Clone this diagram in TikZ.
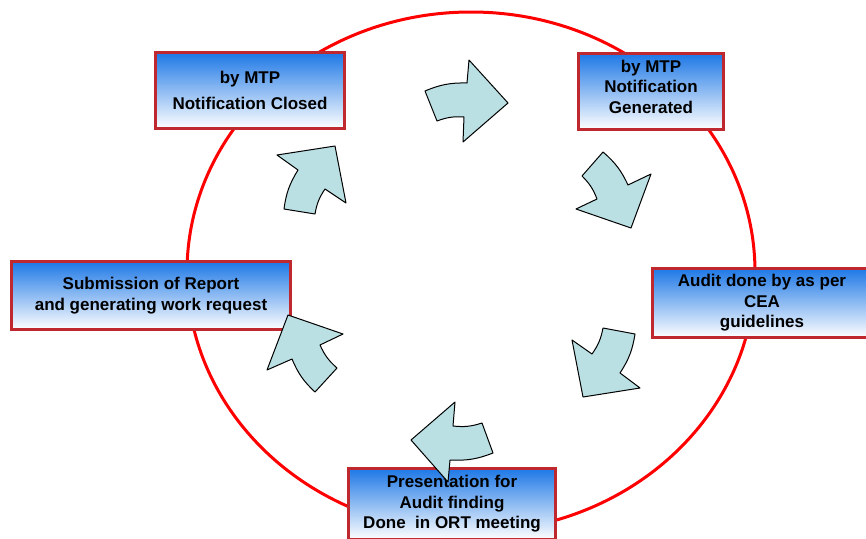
\documentclass[tikz,border=0pt]{standalone}
\usepackage{fontspec}
\setmainfont{Liberation Sans}
\usepackage{tikz}
\definecolor{ringred}{RGB}{255,0,0}
\definecolor{boxred}{RGB}{192,40,48}
\definecolor{boxblue}{RGB}{30,120,230}
\definecolor{turncyan}{RGB}{186,224,228}
\tikzset{
	stagebox/.style={draw=boxred, line width=3pt, top color=boxblue, bottom color=white,
		inner sep=0pt, align=center, font=\fontsize{17}{20.5}\selectfont\bfseries},
	turnarrow/.style={draw=black, fill=turncyan, line width=1pt, line join=round},
}

\begin{document}
\begin{tikzpicture}[x=1pt, y=-1pt]
		%%%%% START %%%%%
		\useasboundingbox (0, 0) rectangle (866, 538);
		
		\draw[ringred, line width=3pt] (471, 272) ellipse [x radius=284, y radius=260];
		
		\node[stagebox, minimum width=189pt, minimum height=76pt] (closed) at (250, 90.5)
			{by MTP\\[5.5pt] Notification Closed};
		\node[stagebox, minimum width=145pt, minimum height=76pt, text depth=10pt] (generated) at (651, 91.5)
			{by MTP\\ Notification\\ Generated};
		\node[stagebox, minimum width=219pt, minimum height=69pt] (audit) at (762, 303)
			{Audit done by as per\\ CEA\\ guidelines};
		\node[stagebox, minimum width=207pt, minimum height=71pt] (present) at (452, 504)
			{Presentation for\\ Audit finding\\ Done~ in ORT meeting};
		\node[stagebox, minimum width=279pt, minimum height=68pt] (report) at (151, 295.5)
			{Submission of Report\\ and generating work request};
		
		% curved arrows, clockwise
		\draw[turnarrow] (425, 91) to[bend left=12] (467, 83) -- (469, 60) -- (508, 103)
			-- (463, 142) -- (464, 117) to[bend right=12] (437, 121) -- cycle;
		\draw[turnarrow] (603, 152) to[bend left=12] (628, 185) -- (651, 174) -- (631, 228)
			-- (576, 209) -- (597, 199) to[bend right=12] (582, 176) -- cycle;
		\draw[turnarrow] (603, 328) -- (635, 334) to[bend left=12] (620, 373) -- (640, 388)
			-- (583, 397) -- (572, 340) -- (592, 354) to[bend right=12] (603, 328) -- cycle;
		\draw[turnarrow] (482, 423) -- (493, 453) to[bend left=12] (450, 460) -- (448, 482)
			-- (411, 440) -- (455, 402) -- (453, 426) to[bend right=12] (482, 423) -- cycle;
		\draw[turnarrow] (288, 315) -- (343, 334) -- (320, 345) to[bend right=12] (337, 368)
			-- (315, 392) to[bend left=12] (292, 359) -- (267, 370) -- cycle;
		\draw[turnarrow] (277, 155) -- (335, 146) -- (346, 203) -- (325, 189)
			to[bend right=12] (315, 214) -- (284, 209) to[bend left=12] (298, 170) -- cycle;
		
		%%%%% END %%%%%
	\end{tikzpicture}
\end{document}
